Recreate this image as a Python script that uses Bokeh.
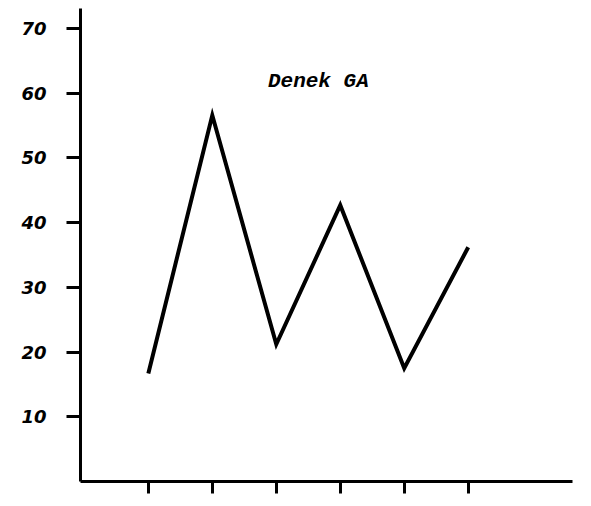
from bokeh.plotting import figure
from bokeh.models import Range1d, FixedTicker, Label
from bokeh.embed import file_html
from bokeh.resources import INLINE

# Data
x_vals = [1, 2, 3, 4, 5, 6]
y_vals = [16.7, 56.6, 21.2, 42.7, 17.5, 36.2]
y_ticks = [10, 20, 30, 40, 50, 60, 70]
series_name = "Denek GA"

p = figure(width=583, height=498,
           x_range=Range1d(-0.06, 7.63), y_range=Range1d(0, 73.1),
           output_backend="svg", toolbar_location=None,
           min_border_left=80, min_border_bottom=17,
           min_border_top=8, min_border_right=11)
p.outline_line_color = None
p.xgrid.grid_line_color = None
p.ygrid.grid_line_color = None
p.background_fill_color = "white"

# Y axis
p.yaxis.ticker = FixedTicker(ticks=y_ticks)
p.yaxis.axis_line_width = 3
p.yaxis.axis_line_color = "black"
p.yaxis.major_tick_line_width = 3
p.yaxis.major_tick_line_color = "black"
p.yaxis.major_tick_out = 14
p.yaxis.major_tick_in = 0
p.yaxis.minor_tick_line_color = None
p.yaxis.major_label_standoff = 20
p.yaxis.major_label_text_font = "DejaVu Sans"
p.yaxis.major_label_text_font_style = "bold italic"
p.yaxis.major_label_text_font_size = "18px"
p.yaxis.major_label_text_color = "black"

# X axis
p.xaxis.ticker = FixedTicker(ticks=x_vals)
p.xaxis.axis_line_width = 3
p.xaxis.axis_line_color = "black"
p.xaxis.major_tick_line_width = 3
p.xaxis.major_tick_line_color = "black"
p.xaxis.major_tick_out = 12
p.xaxis.major_tick_in = 0
p.xaxis.minor_tick_line_color = None
p.xaxis.major_label_text_font_size = "1px"
p.xaxis.major_label_text_alpha = 0
p.xaxis.major_label_standoff = 0

p.line(x_vals, y_vals, line_width=4, line_color="black", line_join="miter")

lbl = Label(x=2.87, y=61.8, text=series_name,
            text_font="Liberation Mono", text_font_style="bold italic",
            text_font_size="21px", text_baseline="middle", text_color="black")
p.add_layout(lbl)

open("out.html", "w").write(file_html(p, INLINE))
